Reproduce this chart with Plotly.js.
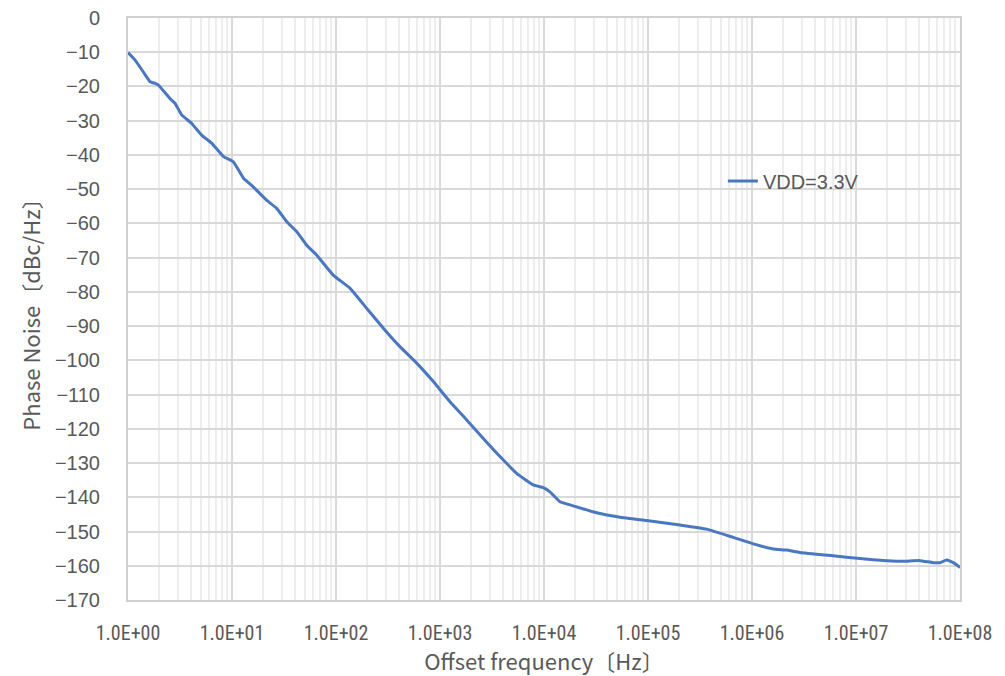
<!DOCTYPE html>
<html>
<head>
<meta charset="utf-8">
<script src="https://cdn.plot.ly/plotly-3.0.1.min.js"></script>
<style>html,body{margin:0;padding:0;background:#fff;}#chart{width:1005px;height:676px;}</style>
</head>
<body>
<div id="chart"></div>
<script>
// Offset frequency (Hz)
const freq = [1, 1.17, 1.4, 1.63, 1.82, 1.96, 2.53, 2.83, 3.28, 4.1, 5.1, 6.4, 8.3, 10.3, 12.9, 16, 21.5, 26.9, 33.6, 41.9, 52, 65, 94, 136, 197, 285, 412, 597, 863, 1248, 1806, 2609, 3776, 5460, 7890, 9840, 11400, 14250, 19100, 32000, 53800, 97000, 203000, 366000, 660000, 1.03e6, 1.6e6, 2.14e6, 2.88e6, 6.0e6, 1.09e7, 1.97e7, 2.85e7, 4.12e7, 5.54e7, 6.43e7, 7.45e7, 8.63e7, 1e8];
// Phase noise (dBc/Hz)
const noise = [-10.1, -12.3, -15.7, -18.6, -19.1, -19.6, -23.5, -24.9, -28.3, -30.8, -34.2, -36.6, -40.5, -42.0, -46.8, -49.3, -53.2, -55.6, -59.5, -62.4, -66.3, -69.2, -75.1, -78.9, -84.8, -90.6, -96.0, -100.8, -106.2, -112.1, -117.4, -122.8, -128.1, -133.0, -136.4, -137.2, -138.4, -141.3, -142.5, -144.5, -145.8, -146.8, -148.1, -149.3, -151.7, -153.6, -155.1, -155.4, -156.1, -157.1, -157.9, -158.5, -158.7, -158.5, -159.1, -159.1, -158.3, -159.1, -160.5];
const seriesName = 'VDD=3.3V';
const xTickVals = [1, 10, 100, 1000, 1e4, 1e5, 1e6, 1e7, 1e8];
const xTickText = ['1.0E+00', '1.0E+01', '1.0E+02', '1.0E+03', '1.0E+04', '1.0E+05', '1.0E+06', '1.0E+07', '1.0E+08'];
const yTickVals = [0, -10, -20, -30, -40, -50, -60, -70, -80, -90, -100, -110, -120, -130, -140, -150, -160, -170];

const minorVals = [];
for (let d = 0; d < 8; d++) for (let m = 2; m <= 9; m++) minorVals.push(m * Math.pow(10, d));

const trace = {
  x: freq, y: noise, name: seriesName, type: 'scatter', mode: 'lines',
  line: {color: '#4a78c0', width: 3, shape: 'spline', smoothing: 0.4}
};

const layout = {
  width: 1005, height: 676,
  margin: {l: 128, r: 45, t: 18, b: 76},
  paper_bgcolor: '#fff', plot_bgcolor: '#fff',
  font: {family: '"Noto Sans CJK JP", "Noto Sans", sans-serif', color: '#595959'},
  xaxis: {
    type: 'log', range: [0, 8],
    tickmode: 'array', tickvals: xTickVals, ticktext: xTickText,
    tickfont: {size: 20, family: '"Liberation Sans Narrow", "Roboto Condensed", "Noto Sans CJK JP", sans-serif', color: '#595959'},
    ticklabelstandoff: 14,
    showgrid: true, gridcolor: '#d9d9d9', gridwidth: 2,
    minor: {tickmode: 'array', tickvals: minorVals, showgrid: true, gridcolor: '#ededed', gridwidth: 2, ticks: ''},
    showline: true, linecolor: '#d0d0d0', linewidth: 2, mirror: true,
    ticks: '', ticklen: 0, zeroline: false,
    title: {text: 'Offset frequency〔Hz〕', font: {size: 22, color: '#595959', family: '"Noto Sans CJK JP", sans-serif'}, standoff: 10}
  },
  yaxis: {
    range: [-170, 0], tickmode: 'array', tickvals: yTickVals,
    tickfont: {size: 20, family: '"Liberation Sans", Arial, sans-serif', color: '#595959'},
    ticklabelstandoff: 22,
    showgrid: true, gridcolor: '#d9d9d9', gridwidth: 2,
    showline: true, linecolor: '#d0d0d0', linewidth: 2, mirror: true,
    zeroline: false, ticks: '',
    title: {text: 'Phase Noise〔dBc/Hz〕', font: {size: 22, color: '#595959', family: '"Noto Sans CJK JP", sans-serif'}, standoff: 8}
  },
  showlegend: true,
  legend: {x: 0.715, y: 0.72, xanchor: 'left', yanchor: 'middle', bgcolor: 'rgba(255,255,255,0)',
    font: {size: 20, family: '"Liberation Sans", Arial, sans-serif', color: '#595959'}}
};

Plotly.newPlot('chart', [trace], layout, {displayModeBar: false, staticPlot: true});
</script>
</body>
</html>
